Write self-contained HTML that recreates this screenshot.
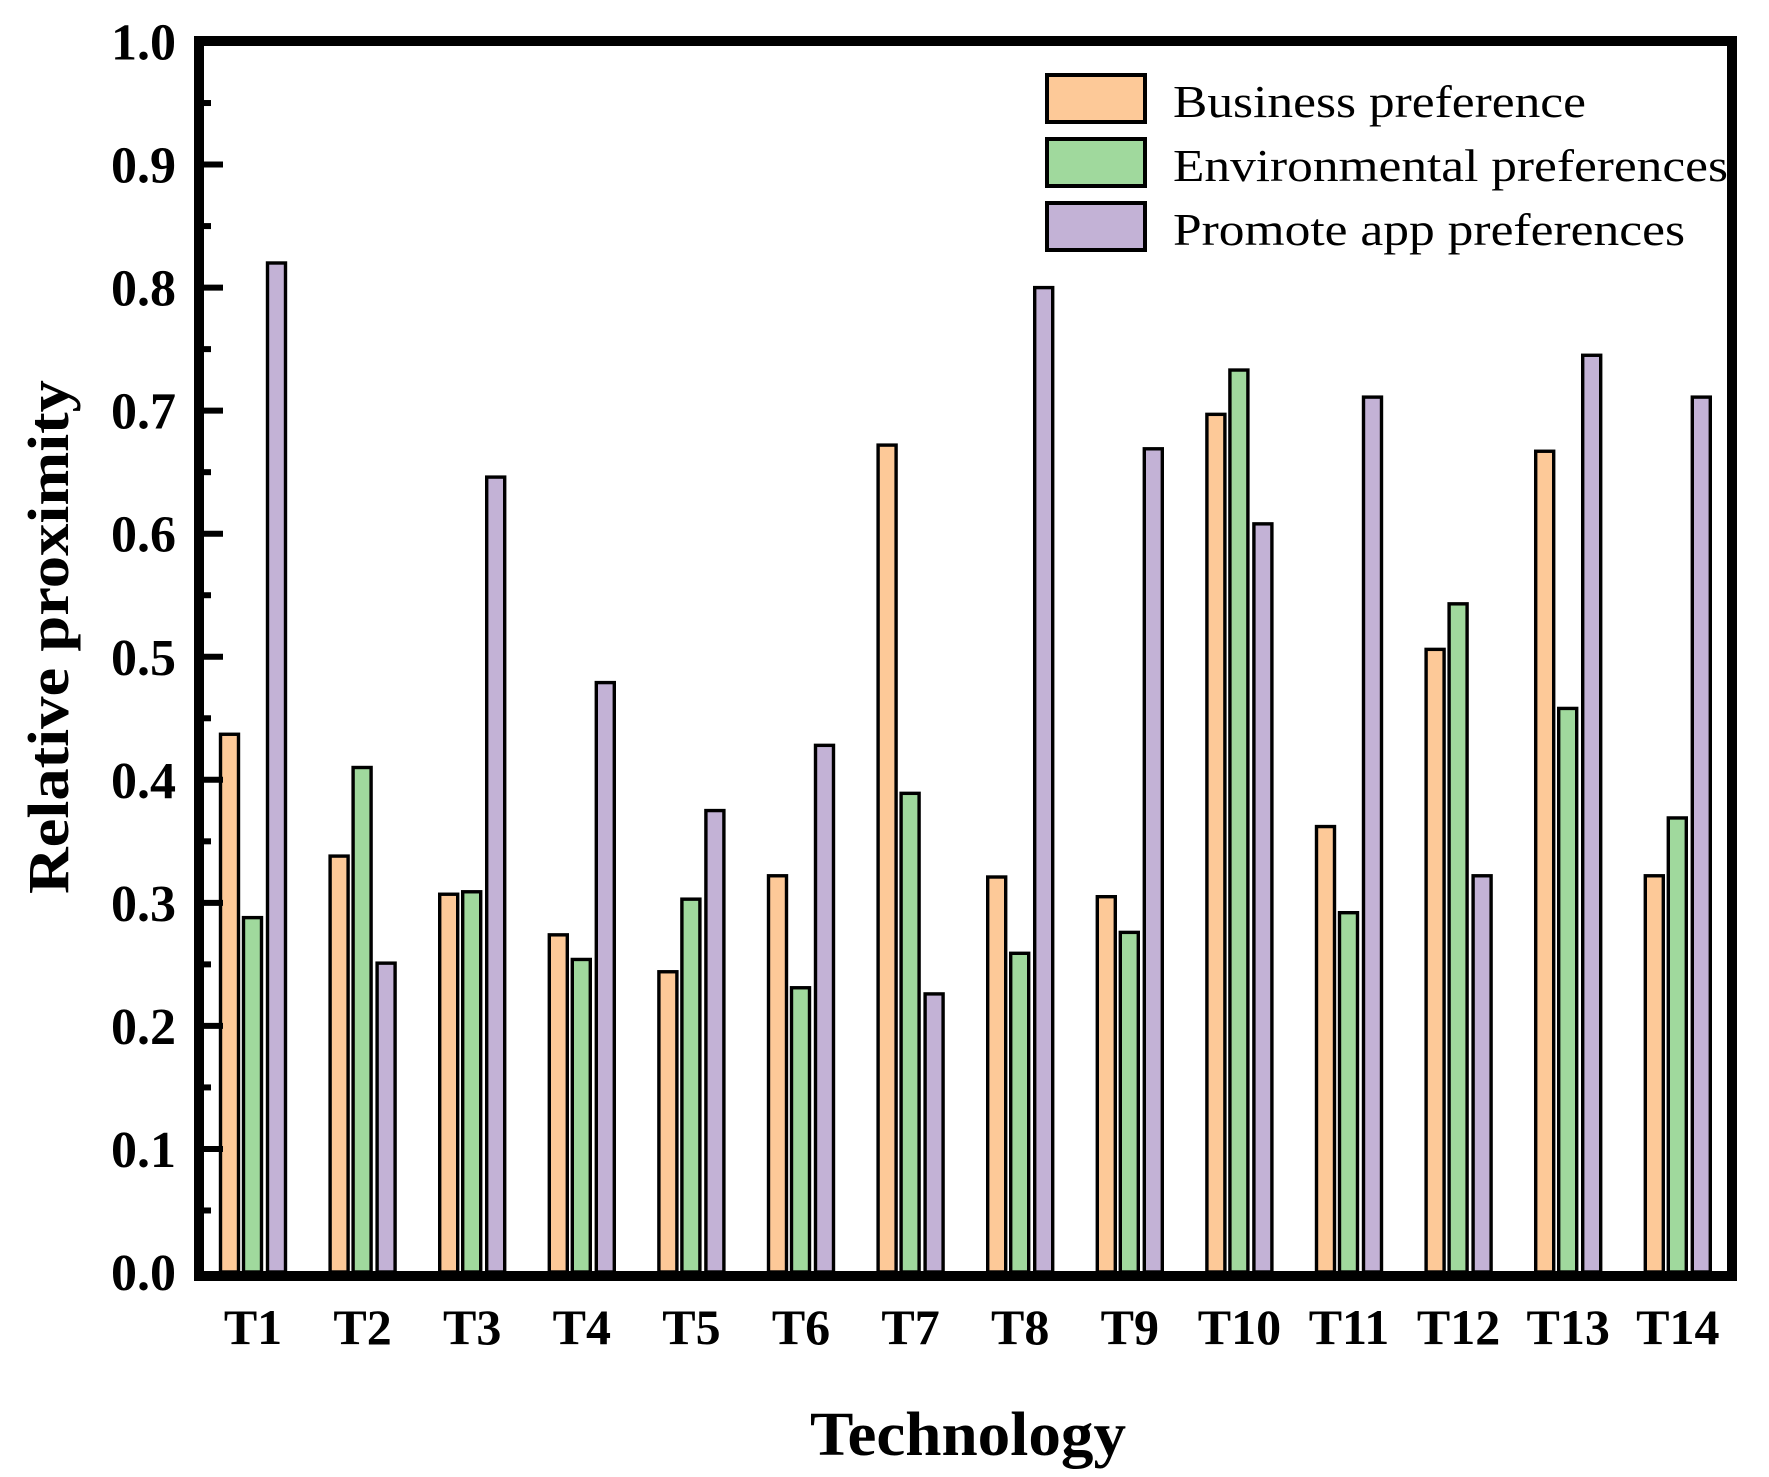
<!DOCTYPE html>
<html><head><meta charset="utf-8"><style>html,body{margin:0;padding:0;background:#fff}svg{display:block}</style></head>
<body>
<svg width="1769" height="1477" viewBox="0 0 1769 1477" xmlns="http://www.w3.org/2000/svg" font-family="'Liberation Serif', serif">
<g id="bars" stroke="#000" stroke-width="3.4"></g>
<rect x="199" y="41" width="1533" height="1235" fill="none" stroke="#000" stroke-width="10"/>
<g id="ticks" stroke="#000" stroke-width="6"></g>
<g id="ylabels" font-weight="bold" font-size="52" text-anchor="end"></g>
<g id="xlabels" font-weight="bold" font-size="50" text-anchor="middle"></g>
<text x="968" y="1455" font-weight="bold" font-size="62" text-anchor="middle" textLength="316" lengthAdjust="spacingAndGlyphs">Technology</text>
<text transform="translate(68,637) rotate(-90)" font-weight="bold" font-size="58" text-anchor="middle" textLength="514" lengthAdjust="spacingAndGlyphs">Relative proximity</text>
<g stroke="#000" stroke-width="4">
<rect x="1047" y="75" width="98" height="47" fill="#FDC998"/>
<rect x="1047" y="139" width="98" height="47" fill="#A0D99D"/>
<rect x="1047" y="203" width="98" height="47" fill="#C3B2D6"/>
</g>
<g font-size="46">
<text x="1173" y="117" textLength="413" lengthAdjust="spacingAndGlyphs">Business preference</text>
<text x="1173" y="181" textLength="555" lengthAdjust="spacingAndGlyphs">Environmental preferences</text>
<text x="1173" y="245" textLength="512" lengthAdjust="spacingAndGlyphs">Promote app preferences</text>
</g>
<script>
var d=[[.437,.288,.82],[.338,.41,.251],[.307,.309,.646],[.274,.254,.479],[.244,.303,.375],[.322,.231,.428],[.672,.389,.226],[.321,.259,.80],[.305,.276,.669],[.697,.733,.608],[.362,.292,.711],[.506,.543,.322],[.667,.458,.745],[.322,.369,.711]];
var col=["#FDC998","#A0D99D","#C3B2D6"],off=[-34,-11,13];
var ns="http://www.w3.org/2000/svg";
function el(p,t,a,txt){var e=document.createElementNS(ns,t);for(var k in a)e.setAttribute(k,a[k]);if(txt)e.textContent=txt;document.getElementById(p).appendChild(e);}
var y0=1272,sc=1230.5;
for(var i=0;i<14;i++){var c=253+i*109.6;
 for(var j=0;j<3;j++){var h=d[i][j]*sc;el("bars","rect",{x:c+off[j]+1.5,y:y0-h,width:18,height:h,fill:col[j]});}
 el("xlabels","text",{x:c,y:1344},"T"+(i+1));}
for(var k=0;k<=20;k++){var y=y0-k*0.05*sc;var L=(k%2==0)?19:7;
 if(k>0&&k<20)el("ticks","line",{x1:204,x2:204+L,y1:y,y2:y});
 if(k%2==0)el("ylabels","text",{x:176,y:y+18},(k/20).toFixed(1));}
</script>
</svg>
</body></html>
